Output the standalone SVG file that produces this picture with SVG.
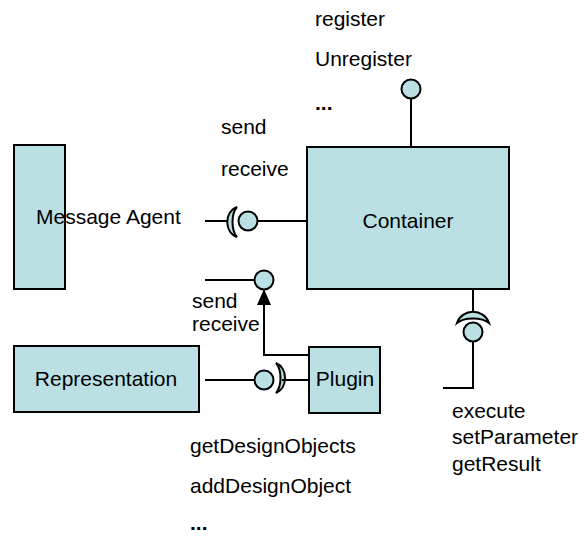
<svg xmlns="http://www.w3.org/2000/svg" width="586" height="540" viewBox="0 0 586 540">
<style>
.box{fill:#BBE0E3;stroke:#000;stroke-width:2}
.ln{fill:none;stroke:#000;stroke-width:2}
.ball{fill:#BBE0E3;stroke:#000;stroke-width:2}
.t{font-family:"Liberation Sans",Arial,sans-serif;font-size:21px;fill:#000}
.c{text-anchor:middle}
.b{font-weight:bold}
</style>
<rect width="586" height="540" fill="#fff"/>
<g id="connectors">
<line class="ln" x1="411" y1="98" x2="411" y2="147"/>
<circle class="ball" cx="411" cy="89" r="9.5"/>
<line class="ln" x1="205" y1="221" x2="232" y2="221"/>
<line class="ln" x1="257" y1="221" x2="307" y2="221"/>
<path class="ball" d="M237,207 C224,212 224,232 237,237 C231,230 231,214 237,207 Z"/>
<circle class="ball" cx="248" cy="221" r="9.5"/>
<line class="ln" x1="205" y1="280" x2="255" y2="280"/>
<circle class="ball" cx="264" cy="280" r="9.5"/>
<polyline class="ln" points="309,355 264,355 264,304"/>
<polygon points="264,289 257,305 271,305" fill="#000"/>
<line class="ln" x1="205" y1="380" x2="255" y2="380"/>
<circle class="ball" cx="264" cy="380" r="9.5"/>
<path class="ball" d="M276,363 C288,368 288,388 276,393 C282,386 282,370 276,363 Z"/>
<line class="ln" x1="282" y1="380" x2="309" y2="380"/>
<line class="ln" x1="473" y1="289" x2="473" y2="314"/>
<path class="ball" d="M457,323 C462,308 484,308 489,323 C482,317 464,317 457,323 Z"/>
<circle class="ball" cx="473" cy="332" r="9.5"/>
<polyline class="ln" points="473,341 473,388 443,388"/>
</g>
<g id="message-agent">
<rect class="box" x="14" y="145" width="51" height="144"/>
<text class="t" x="36" y="224">Message Agent</text>
</g>
<g id="container">
<rect class="box" x="307" y="147" width="202" height="142"/>
<text class="t c" x="408" y="228">Container</text>
</g>
<g id="representation">
<rect class="box" x="14" y="346" width="185" height="66"/>
<text class="t c" x="106" y="386">Representation</text>
</g>
<g id="plugin">
<rect class="box" x="309" y="347" width="71" height="66"/>
<text class="t c" x="345" y="386">Plugin</text>
</g>
<g id="labels">
<text class="t" x="315" y="26">register</text>
<text class="t" x="315" y="66">Unregister</text>
<text class="t b" x="315" y="110">...</text>
<text class="t" x="221" y="134">send</text>
<text class="t" x="221" y="176">receive</text>
<text class="t" x="192" y="308">send</text>
<text class="t" x="192" y="331">receive</text>
<text class="t" x="190" y="453">getDesignObjects</text>
<text class="t" x="190" y="493">addDesignObject</text>
<text class="t b" x="190" y="530">...</text>
<text class="t" x="452" y="418">execute</text>
<text class="t" x="452" y="444">setParameter</text>
<text class="t" x="452" y="471">getResult</text>
</g>
</svg>
